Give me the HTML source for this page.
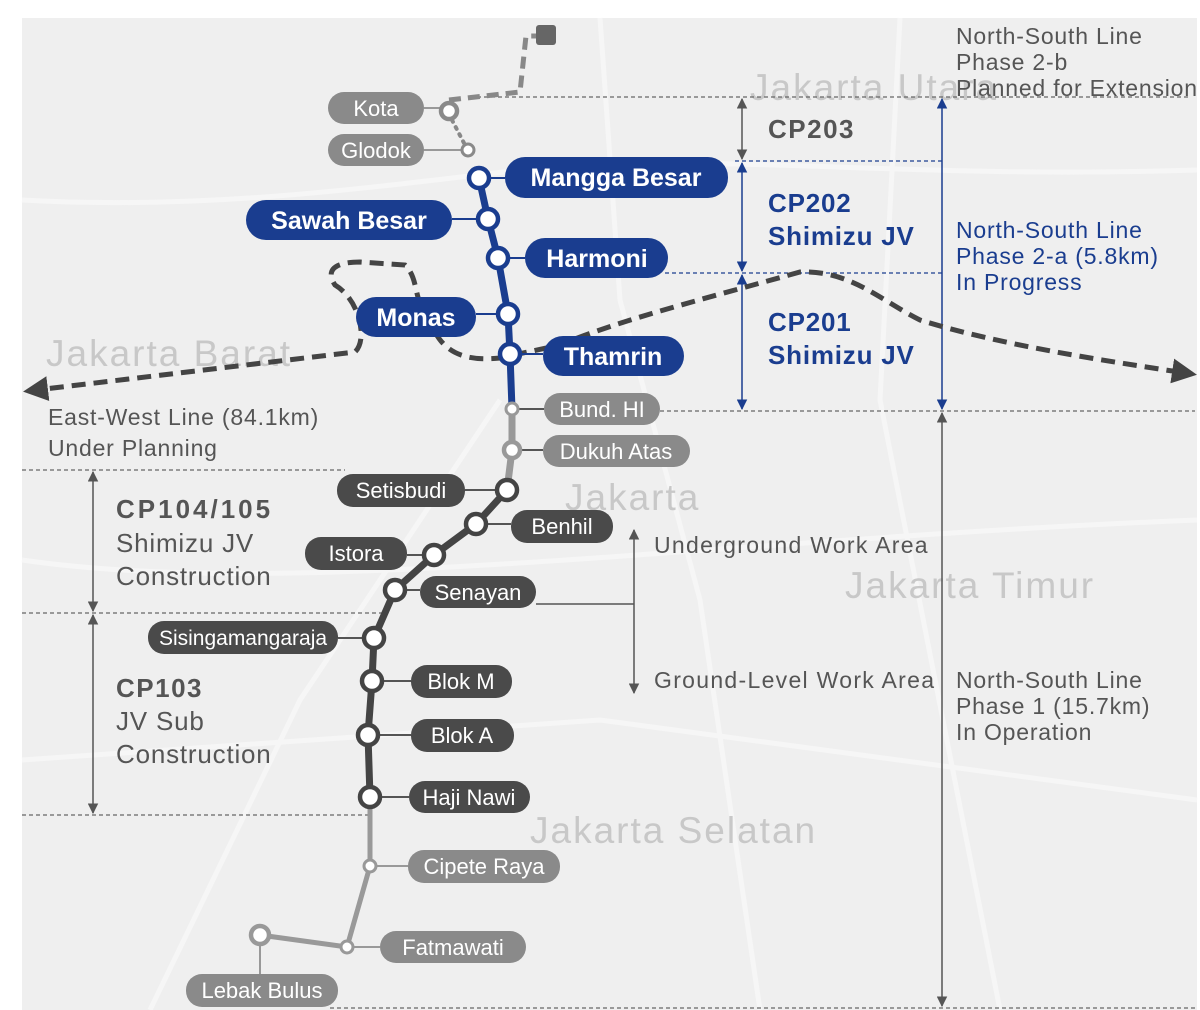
<!DOCTYPE html>
<html><head><meta charset="utf-8"><style>
body{margin:0;background:#fff}
svg{display:block;font-family:"Liberation Sans",sans-serif}
</style></head><body>
<svg width="1200" height="1010" viewBox="0 0 1200 1010" xmlns="http://www.w3.org/2000/svg">
<defs>
<marker id="ag" viewBox="0 0 10 10" refX="9" refY="5" markerWidth="7" markerHeight="7" orient="auto-start-reverse"><path d="M0,0L10,5L0,10z" fill="#555"/></marker>
<marker id="ab" viewBox="0 0 10 10" refX="9" refY="5" markerWidth="7" markerHeight="7" orient="auto-start-reverse"><path d="M0,0L10,5L0,10z" fill="#1a3d8f"/></marker>
<marker id="ad" viewBox="0 0 10 10" refX="8" refY="5" markerWidth="5" markerHeight="5" orient="auto-start-reverse"><path d="M0,0L10,5L0,10z" fill="#444"/></marker>
</defs>
<rect x="22" y="18" width="1175" height="992" fill="#efefef"/>
<g stroke="#f6f6f6" stroke-width="5" fill="none">
<path d="M22,200 C200,210 350,190 520,170 C700,150 900,180 1197,170"/>
<path d="M600,18 L620,300 L700,600 L760,1010"/>
<path d="M22,560 C300,600 700,540 1197,520"/>
<path d="M150,1010 L300,700 L500,400"/>
<path d="M900,18 L880,400 L1000,1010"/>
<path d="M22,760 L600,720 L1197,800"/>
</g>
<g fill="#c8c8c8" font-size="37" letter-spacing="2">
<text x="750" y="100">Jakarta Utara</text>
<text x="46" y="366">Jakarta Barat</text>
<text x="565" y="510">Jakarta</text>
<text x="845" y="598">Jakarta Timur</text>
<text x="530" y="843">Jakarta Selatan</text>
</g>
<g stroke="#666" stroke-width="1.3" stroke-dasharray="4,3" fill="none">
<path d="M470,97H1190"/><path d="M22,470H345"/><path d="M22,613H385"/><path d="M22,815H370"/><path d="M330,1008H1195"/><path d="M660,411H1195"/>
</g>
<g stroke="#1a3d8f" stroke-width="1.3" stroke-dasharray="4,3" fill="none">
<path d="M735,161H945"/><path d="M665,273H945"/>
</g>
<g stroke="#555" stroke-width="1.5" fill="none">
<path d="M742,99V159" marker-start="url(#ag)" marker-end="url(#ag)"/>
<path d="M942,413V1006" marker-start="url(#ag)" marker-end="url(#ag)"/>
<path d="M93,472V611" marker-start="url(#ag)" marker-end="url(#ag)"/>
<path d="M93,615V813" marker-start="url(#ag)" marker-end="url(#ag)"/>
<path d="M634,530V693" marker-start="url(#ag)" marker-end="url(#ag)"/>
<path d="M536,604H634"/>
</g>
<g stroke="#1a3d8f" stroke-width="1.5" fill="none">
<path d="M742,163V271" marker-start="url(#ab)" marker-end="url(#ab)"/>
<path d="M742,275V409" marker-start="url(#ab)" marker-end="url(#ab)"/>
<path d="M942,99V409" marker-start="url(#ab)" marker-end="url(#ab)"/>
</g>
<path d="M28,391 L355,352 C368,340 360,300 335,285 C325,270 335,262 360,262 L405,265 C420,280 412,300 430,320 C440,350 460,362 500,358 L560,345 C620,320 700,300 800,272 C850,270 880,300 920,320 C1000,345 1100,360 1192,374" stroke="#444" stroke-width="5" stroke-dasharray="14,8" fill="none" marker-start="url(#ad)" marker-end="url(#ad)"/>
<path d="M449,100 L520,92 L526,36 L540,36" stroke="#888" stroke-width="5" stroke-dasharray="12,7" fill="none"/>
<rect x="536" y="25" width="20" height="20" rx="3" fill="#666"/>
<path d="M452,120 L465,145" stroke="#888" stroke-width="4" stroke-dasharray="2,6" stroke-linecap="round"/>
<path d="M479,178 L488,219 L498,258 L508,314 L510,354 L512,409" stroke="#1a3d8f" stroke-width="7" fill="none"/>
<path d="M512,409 L512,450 L507,490" stroke="#999" stroke-width="7" fill="none"/>
<path d="M507,490 L476,524 L434,555 L395,590 L374,638 L372,681 L368,735 L370,797" stroke="#444" stroke-width="7" fill="none"/>
<path d="M370,797 L370,866 L347,947 L260,935" stroke="#999" stroke-width="5" fill="none"/>
<g stroke-width="2" fill="none">
<path d="M424,108H449M424,150H468" stroke="#999"/>
<path d="M505,178H479M452,219H488M525,258H498M476,314H508M543,354H510" stroke="#1a3d8f"/>
<path d="M544,409H512M543,450H512M465,490H507M511,524H476M407,555H434M420,590H395M338,638H374M411,681H372M411,735H368M409,797H370" stroke="#555"/>
<path d="M408,866H370M380,947H347M260,935V974" stroke="#999"/>
</g>
<g font-size="22" fill="#fff" text-anchor="middle">
<rect x="328" y="92" width="96" height="32" rx="16" fill="#8a8a8a"/><text x="376" y="116">Kota</text>
<rect x="328" y="134" width="96" height="32" rx="16" fill="#8a8a8a"/><text x="376" y="158">Glodok</text>
<g font-weight="bold" font-size="25">
<rect x="505" y="157" width="223" height="41" rx="20" fill="#1a3d8f"/><text x="616" y="186">Mangga Besar</text>
<rect x="246" y="200" width="206" height="40" rx="20" fill="#1a3d8f"/><text x="349" y="229">Sawah Besar</text>
<rect x="525" y="238" width="143" height="40" rx="20" fill="#1a3d8f"/><text x="597" y="267">Harmoni</text>
<rect x="356" y="297" width="120" height="40" rx="20" fill="#1a3d8f"/><text x="416" y="326">Monas</text>
<rect x="543" y="336" width="141" height="40" rx="20" fill="#1a3d8f"/><text x="613" y="365">Thamrin</text>
</g>
<rect x="544" y="393" width="116" height="32" rx="16" fill="#8a8a8a"/><text x="602" y="417">Bund. HI</text>
<rect x="543" y="435" width="147" height="32" rx="16" fill="#8a8a8a"/><text x="616" y="459">Dukuh Atas</text>
<rect x="337" y="474" width="128" height="33" rx="16" fill="#4a4a4a"/><text x="401" y="498">Setisbudi</text>
<rect x="511" y="510" width="102" height="33" rx="16" fill="#4a4a4a"/><text x="562" y="534">Benhil</text>
<rect x="305" y="537" width="102" height="33" rx="16" fill="#4a4a4a"/><text x="356" y="561">Istora</text>
<rect x="420" y="576" width="116" height="32" rx="16" fill="#4a4a4a"/><text x="478" y="600">Senayan</text>
<rect x="148" y="621" width="190" height="33" rx="16" fill="#4a4a4a"/><text x="243" y="645" font-size="21">Sisingamangaraja</text>
<rect x="411" y="665" width="101" height="33" rx="16" fill="#4a4a4a"/><text x="461" y="689">Blok M</text>
<rect x="411" y="719" width="103" height="33" rx="16" fill="#4a4a4a"/><text x="462" y="743">Blok A</text>
<rect x="409" y="781" width="121" height="32" rx="16" fill="#4a4a4a"/><text x="469" y="805">Haji Nawi</text>
<rect x="408" y="850" width="152" height="33" rx="16" fill="#8a8a8a"/><text x="484" y="874">Cipete Raya</text>
<rect x="380" y="931" width="146" height="32" rx="16" fill="#8a8a8a"/><text x="453" y="955">Fatmawati</text>
<rect x="186" y="974" width="152" height="33" rx="16" fill="#8a8a8a"/><text x="262" y="998">Lebak Bulus</text>
</g>
<g fill="#fff" stroke-width="4.5">
<circle cx="449" cy="111" r="8" stroke="#8a8a8a"/>
<circle cx="468" cy="150" r="6" stroke="#8a8a8a" stroke-width="3"/>
<g stroke="#1a3d8f"><circle cx="479" cy="178" r="10"/><circle cx="488" cy="219" r="10"/><circle cx="498" cy="258" r="10"/><circle cx="508" cy="314" r="10"/><circle cx="510" cy="354" r="10"/></g>
<circle cx="512" cy="409" r="6" stroke="#999" stroke-width="3"/>
<circle cx="512" cy="450" r="8" stroke="#999"/>
<g stroke="#444"><circle cx="507" cy="490" r="10"/><circle cx="476" cy="524" r="10"/><circle cx="434" cy="555" r="10"/><circle cx="395" cy="590" r="10"/><circle cx="374" cy="638" r="10"/><circle cx="372" cy="681" r="10"/><circle cx="368" cy="735" r="10"/><circle cx="370" cy="797" r="10"/></g>
<circle cx="370" cy="866" r="6" stroke="#999" stroke-width="3"/>
<circle cx="347" cy="947" r="6" stroke="#999" stroke-width="3"/>
<circle cx="260" cy="935" r="9" stroke="#999"/>
</g>
<g font-size="23" fill="#555" letter-spacing="0.8">
<text x="956" y="44">North-South Line</text><text x="956" y="70">Phase 2-b</text><text x="956" y="96">Planned for Extension</text>
<text x="768" y="138" font-weight="bold" font-size="26" letter-spacing="1.5">CP203</text>
<text x="48" y="425">East-West Line (84.1km)</text><text x="48" y="456">Under Planning</text>
<text x="116" y="518" font-weight="bold" font-size="26" letter-spacing="3">CP104/105</text><text x="116" y="552" font-size="26">Shimizu JV</text><text x="116" y="585" font-size="26">Construction</text>
<text x="116" y="697" font-weight="bold" font-size="26" letter-spacing="1.5">CP103</text><text x="116" y="730" font-size="26">JV Sub</text><text x="116" y="763" font-size="26">Construction</text>
<text x="654" y="553" letter-spacing="1.3">Underground Work Area</text>
<text x="654" y="688" letter-spacing="1.3">Ground-Level Work Area</text>
<text x="956" y="688">North-South Line</text><text x="956" y="714">Phase 1 (15.7km)</text><text x="956" y="740">In Operation</text>
</g>
<g fill="#1a3d8f" letter-spacing="0.8">
<text x="768" y="212" font-weight="bold" font-size="26">CP202</text><text x="768" y="245" font-weight="bold" font-size="26">Shimizu JV</text>
<text x="768" y="331" font-weight="bold" font-size="26">CP201</text><text x="768" y="364" font-weight="bold" font-size="26">Shimizu JV</text>
<text x="956" y="238" font-size="23">North-South Line</text><text x="956" y="264" font-size="23">Phase 2-a (5.8km)</text><text x="956" y="290" font-size="23">In Progress</text>
</g>
</svg>
</body></html>
